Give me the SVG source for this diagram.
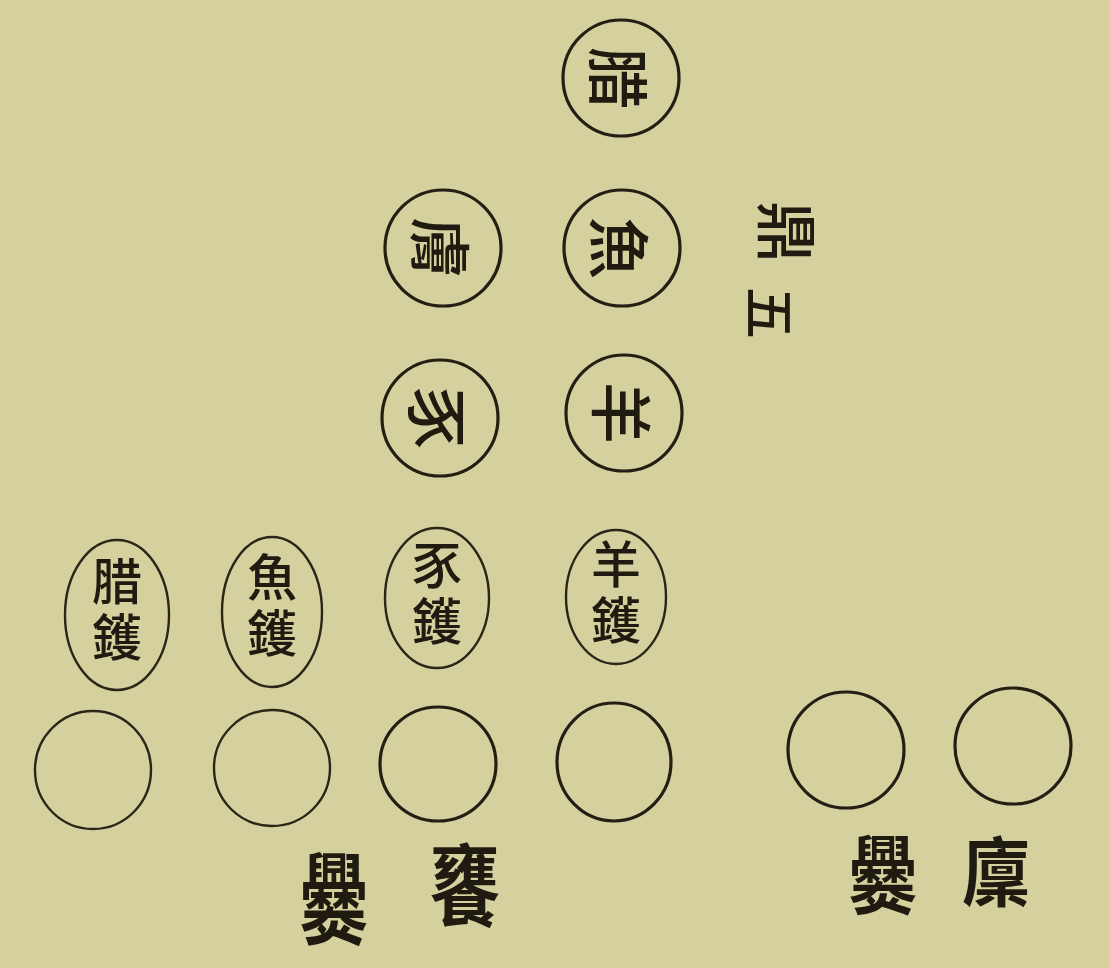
<svg xmlns="http://www.w3.org/2000/svg" width="1109" height="968" viewBox="0 0 1109 968">
<style>
.bg{fill:#d5d19e}
.ring{fill:none;stroke:#231f14;stroke-width:3.2}
.thin{fill:none;stroke:#2a2618;stroke-width:2.4}
text{font-family:"Noto Sans CJK TC","Noto Sans CJK SC",serif;fill:#1f1b10;text-anchor:middle;dominant-baseline:central;font-weight:500}
.c{font-size:62px}
.o{font-size:50px;writing-mode:vertical-rl;letter-spacing:6px}
.l{font-size:68px;font-weight:700}
</style>
<rect class="bg" x="0" y="0" width="1109" height="968"/>
<g id="connectors"></g>
<g id="n-xi-top"><circle class="ring" cx="621" cy="78" r="58"/><text class="c" transform="translate(621,78) rotate(90)">腊</text></g>
<g id="n-fu"><circle class="ring" cx="443" cy="248" r="58"/><text class="c" transform="translate(443,248) rotate(90)">膚</text></g>
<g id="n-yu"><circle class="ring" cx="622" cy="248" r="58"/><text class="c" transform="translate(622,248) rotate(90)">魚</text></g>
<g id="n-shi"><circle class="ring" cx="440" cy="418" r="58"/><text class="c" transform="translate(440,418) rotate(90)">豕</text></g>
<g id="n-yang"><circle class="ring" cx="624" cy="413" r="58"/><text class="c" transform="translate(624,413) rotate(90)">羊</text></g>
<g id="n-ding-wu"><text class="c" transform="translate(790,232) rotate(90)">鼎</text><text class="c" style="font-size:52px" transform="translate(772,313) rotate(90)">五</text></g>
<g id="n-xi-huo"><ellipse class="thin" cx="117" cy="615" rx="52" ry="75"/><text class="o" x="117" y="612">腊鑊</text></g>
<g id="n-yu-huo"><ellipse class="thin" cx="272" cy="612" rx="50" ry="75"/><text class="o" x="272" y="608">魚鑊</text></g>
<g id="n-shi-huo"><ellipse class="thin" cx="437" cy="598" rx="52" ry="70"/><text class="o" x="437" y="596">豕鑊</text></g>
<g id="n-yang-huo"><ellipse class="thin" cx="616" cy="597" rx="50" ry="67"/><text class="o" x="616" y="595">羊鑊</text></g>
<g id="n-e1"><ellipse class="thin" cx="93" cy="770" rx="58" ry="59"/></g>
<g id="n-e2"><ellipse class="thin" cx="272" cy="768" rx="58" ry="58"/></g>
<g id="n-e3"><ellipse class="ring" cx="438" cy="764" rx="58" ry="57"/></g>
<g id="n-e4"><ellipse class="ring" cx="614" cy="762" rx="57" ry="59"/></g>
<g id="n-e5"><circle class="ring" cx="846" cy="750" r="58"/></g>
<g id="n-e6"><circle class="ring" cx="1013" cy="746" r="58"/></g>
<g id="n-cuan1"><text class="l" transform="translate(334,893) scale(1,1.45)">爨</text></g>
<g id="n-yong"><text class="l" transform="translate(465,880) scale(1.05,1.3)">饔</text></g>
<g id="n-cuan2"><text class="l" transform="translate(883,870) scale(1,1.25)">爨</text></g>
<g id="n-lin"><text class="l" transform="translate(996,868) scale(1,1.1)">廩</text></g>
</svg>
